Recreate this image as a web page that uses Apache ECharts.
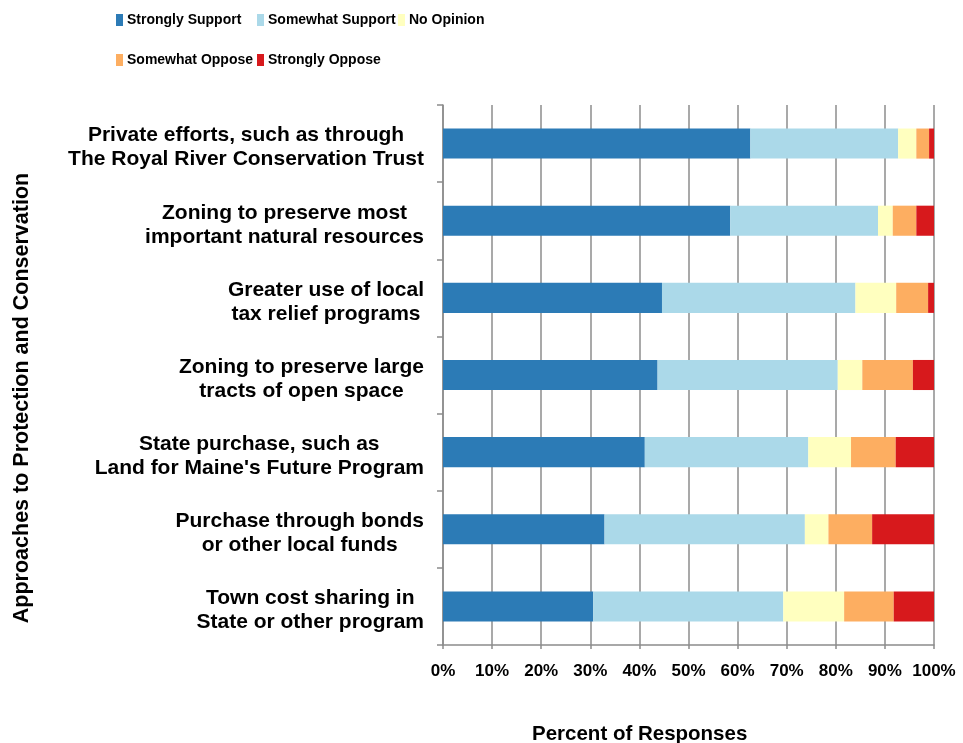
<!DOCTYPE html>
<html>
<head>
    <meta charset="utf-8">
    <title>Approaches to Protection and Conservation</title>
    <script src="https://cdn.jsdelivr.net/npm/echarts@6/dist/echarts.min.js"></script>
    <style>
        html, body { margin: 0; padding: 0; background: #fff; }
        #main { width: 963px; height: 743px; }
    </style>
</head>
<body>
<div id="main"></div>
<script type="text/javascript">
    // categories, top to bottom
    var categories = [
        'Private efforts, such as through\nThe Royal River Conservation Trust',
        'Zoning to preserve most\nimportant natural resources',
        'Greater use of local\ntax relief programs',
        'Zoning to preserve large\ntracts of open space',
        "State purchase, such as\nLand for Maine's Future Program",
        'Purchase through bonds\nor other local funds',
        'Town cost sharing in\nState or other program'
    ];
    var seriesNames = ['Strongly Support', 'Somewhat Support', 'No Opinion', 'Somewhat Oppose', 'Strongly Oppose'];
    var stronglySupport = [62.6, 58.5, 44.6, 43.7, 41.1, 32.9, 30.6];
    var somewhatSupport = [30.1, 30.1, 39.4, 36.7, 33.3, 40.8, 38.7];
    var noOpinion       = [3.7, 3.0, 8.3, 5.0, 8.7, 4.8, 12.4];
    var somewhatOppose  = [2.6, 4.8, 6.5, 10.3, 9.1, 8.9, 10.1];
    var stronglyOppose  = [1.0, 3.6, 1.2, 4.3, 7.8, 12.6, 8.2];
    var colors = ['#2C7BB6', '#ABD9E9', '#FFFFBF', '#FDAE61', '#D7191C'];

    var font = "'Liberation Sans', Arial, sans-serif";
    var gridColor = '#8C8C8C';

    var myChart = echarts.init(document.getElementById('main'));

    // legend laid out as columns, like the original
    function legendCol(left, names) {
        return {
            orient: 'vertical',
            left: left,
            top: 11,
            padding: 0,
            itemWidth: 7,
            itemHeight: 12,
            itemGap: 22,
            icon: 'rect',
            selectedMode: false,
            data: names,
            textStyle: {fontFamily: font, fontWeight: 'bold', fontSize: 14, color: '#000', lineHeight: 18, padding: [0, 0, 0, -1]}
        };
    }

    var values = [stronglySupport, somewhatSupport, noOpinion, somewhatOppose, stronglyOppose];
    var series = seriesNames.map(function (name, i) {
        return {
            name: name,
            type: 'bar',
            stack: 'total',
            barWidth: '39%',
            itemStyle: {color: colors[i]},
            data: values[i]
        };
    });

    var option = {
        animation: false,
        color: colors,
        textStyle: {fontFamily: font},
        legend: [
            legendCol(116, ['Strongly Support', 'Somewhat Oppose']),
            legendCol(257, ['Somewhat Support', 'Strongly Oppose']),
            legendCol(398, ['No Opinion'])
        ],
        grid: {left: 443, right: 29, top: 105, bottom: 98},
        xAxis: {
            type: 'value',
            min: 0,
            max: 100,
            interval: 10,
            axisLine: {show: true, lineStyle: {color: gridColor, width: 1.5}},
            axisTick: {show: true, length: 4, lineStyle: {color: gridColor, width: 1.5}},
            splitLine: {show: true, lineStyle: {color: gridColor, width: 1.5}},
            axisLabel: {
                formatter: '{value}%',
                fontFamily: font, fontWeight: 'bold', fontSize: 17, color: '#000', margin: 18
            }
        },
        yAxis: {
            type: 'category',
            inverse: true,
            data: categories,
            axisLine: {show: true, lineStyle: {color: gridColor, width: 1.5}},
            axisTick: {show: true, length: 6, lineStyle: {color: gridColor, width: 1.5}},
            axisLabel: {
                margin: 19,
                align: 'right',
                padding: [8, 0, 0, 0],
                // each line centred inside the label block
                formatter: function (v) {
                    return v.split('\n').map(function (l) { return '{c|' + l + '}'; }).join('\n');
                },
                rich: {
                    c: {align: 'center', fontFamily: font, fontWeight: 'bold', fontSize: 21, color: '#000', lineHeight: 24}
                }
            }
        },
        graphic: [
            {
                type: 'text',
                left: 532,
                top: 724,
                style: {text: 'Percent of Responses', font: 'bold 20.5px ' + font, fill: '#000'}
            },
            {
                type: 'text',
                x: 22,
                y: 398,
                rotation: Math.PI / 2,
                style: {
                    text: 'Approaches to Protection and Conservation',
                    font: 'bold 21.5px ' + font, fill: '#000',
                    align: 'center', verticalAlign: 'middle'
                }
            }
        ],
        series: series
    };
    myChart.setOption(option);
</script>
</body>
</html>
